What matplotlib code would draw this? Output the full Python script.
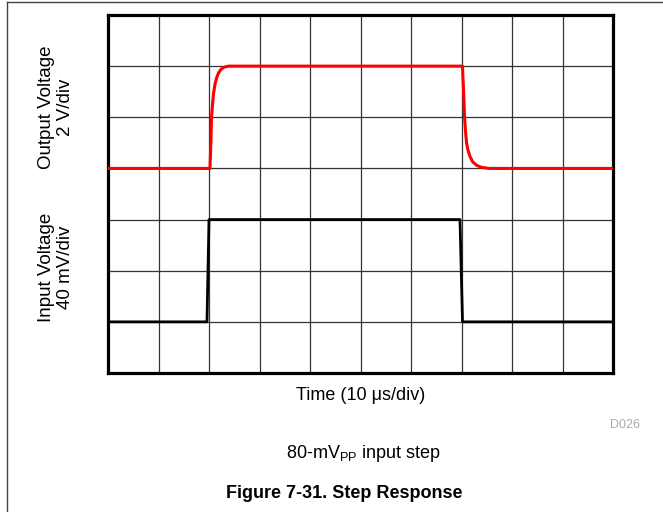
import matplotlib
matplotlib.use("Agg")
import matplotlib.pyplot as plt
from matplotlib.lines import Line2D

plt.rcParams['font.family'] = ['Liberation Sans', 'DejaVu Sans']
plt.rcParams['mathtext.fontset'] = 'custom'
plt.rcParams['mathtext.rm'] = 'Liberation Sans'

# Traces in scope divisions (x: 10 div, y: 7 div)
out_x = [0.0, 2.02, 2.03, 2.04, 2.05, 2.07, 2.09, 2.12, 2.15, 2.19, 2.24, 2.30, 2.38,
         7.02, 7.03, 7.04, 7.06, 7.08, 7.10, 7.13, 7.17, 7.22, 7.30, 7.40, 7.55, 10.0]
out_y = [4.0, 4.0, 4.3, 4.56, 5.0, 5.25, 5.47, 5.65, 5.77, 5.87, 5.94, 5.98, 6.0,
         6.0, 5.75, 5.54, 5.02, 4.72, 4.5, 4.35, 4.23, 4.13, 4.06, 4.02, 4.0, 4.0]

in_x = [0.0, 1.96, 2.0, 6.97, 7.02, 10.0]
in_y = [1.0, 1.0, 3.0, 3.0, 1.0, 1.0]

n_xdiv = 10
n_ydiv = 7

fig = plt.figure(figsize=(6.63, 5.12), dpi=100)
ax = fig.add_axes([108 / 663, 1 - 373 / 512, 505 / 663, 358 / 512])

ax.set_xlim(0, n_xdiv)
ax.set_ylim(0, n_ydiv)
ax.set_xticks(range(n_xdiv + 1))
ax.set_yticks(range(n_ydiv + 1))
ax.tick_params(length=0, labelbottom=False, labelleft=False)
ax.grid(True, color='#333333', linewidth=0.9)
for sp in ax.spines.values():
    sp.set_linewidth(2.3)
    sp.set_color('black')

ax.plot(out_x, out_y, color='#ff0000', linewidth=2.2, zorder=3)
ax.plot(in_x, in_y, color='black', linewidth=2.0, zorder=3)

ax.text(-1.03, 5.2, "Output Voltage\n2 V/div", rotation=90, ha='center', va='center',
        fontsize=13.5, linespacing=1.08, multialignment='center', clip_on=False)
ax.text(-1.03, 2.06, "Input Voltage\n40 mV/div", rotation=90, ha='center', va='center',
        fontsize=13.5, linespacing=1.08, multialignment='center', clip_on=False)

fig.text(360.5 / 663, 1 - 395 / 512, "Time (10 μs/div)", ha='center', va='center', fontsize=13)
fig.text(625 / 663, 1 - 425 / 512, "D026", ha='center', va='center', fontsize=9, color='#aaaaaa')
fig.text(363 / 663, 1 - 454 / 512, r"80-mV$_\mathrm{PP}$ input step", ha='center', va='center', fontsize=13)
fig.text(344 / 663, 1 - 493 / 512, "Figure 7-31. Step Response", ha='center', va='center',
         fontsize=13, fontweight='bold')

# page frame
fig.add_artist(Line2D([6.5 / 663, 1], [1 - 2 / 512, 1 - 2 / 512], color='#444444', linewidth=1.0))
fig.add_artist(Line2D([6.5 / 663, 6.5 / 663], [0, 1 - 2 / 512], color='#444444', linewidth=1.0))

fig.savefig("out.png", dpi=100)
